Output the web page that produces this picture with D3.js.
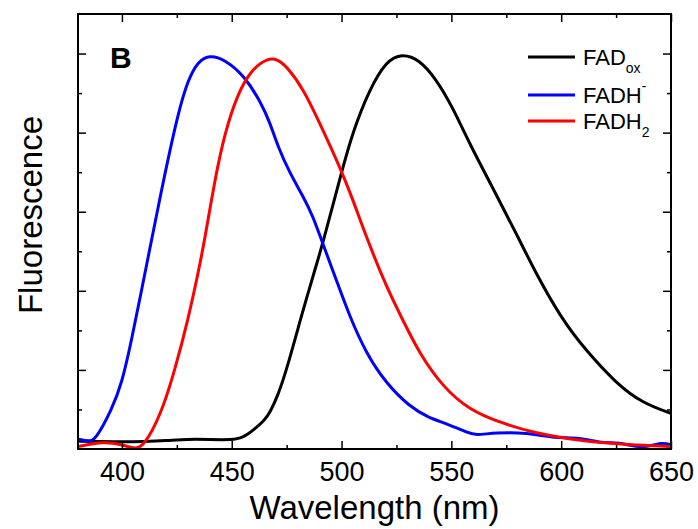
<!DOCTYPE html>
<html>
<head>
<meta charset="utf-8">
<script src="https://cdn.jsdelivr.net/npm/d3@7"></script>
<style>
  body { margin: 0; background: #fff; }
  svg { font-family: "Liberation Sans", Arial, sans-serif; }
</style>
</head>
<body>
<svg></svg>
<script>
// FAD oxidised
let oxWave = [380, 390, 400, 410, 420, 430, 440, 450, 455, 460, 465, 467.4, 471, 475, 482.5, 487, 491.5, 500, 505, 512.7, 520.3, 527.5, 535.4, 543, 550.5, 558, 570, 581, 588.4, 600.4, 611, 625, 637, 650]
let oxVal = [0.020, 0.019, 0.018, 0.019, 0.021, 0.025, 0.024, 0.023, 0.028, 0.048, 0.073, 0.092, 0.135, 0.200, 0.352, 0.437, 0.520, 0.700, 0.800, 0.909, 0.981, 1.000, 0.985, 0.936, 0.865, 0.775, 0.648, 0.529, 0.445, 0.327, 0.251, 0.166, 0.116, 0.090]

// FADH-
let fadhWave = [380, 385, 388, 395.3, 400, 404.4, 409, 413.5, 419.6, 425.6, 430.1, 434.7, 440, 446.8, 455.9, 463.4, 467.4, 471, 476.4, 482.5, 487, 490.8, 497.6, 503.7, 511.2, 520.3, 531, 540, 547.5, 558, 561, 570, 584, 597.5, 608, 618.6, 626, 637, 646, 650]
let fadhVal = [0.025, 0.019, 0.023, 0.099, 0.166, 0.276, 0.403, 0.529, 0.698, 0.850, 0.934, 0.981, 0.996, 0.985, 0.943, 0.875, 0.825, 0.765, 0.698, 0.639, 0.588, 0.529, 0.428, 0.335, 0.242, 0.166, 0.107, 0.078, 0.065, 0.040, 0.035, 0.041, 0.042, 0.027, 0.030, 0.014, 0.018, 0.000, 0.018, 0.010]

// FADH2
let fadh2Wave = [380, 391.7, 400.8, 406.1, 409.9, 418, 424.1, 430.1, 434.7, 437.7, 442.3, 446.8, 452.8, 458.9, 466.4, 471, 474.9, 482.5, 490, 499.1, 505.2, 511.2, 520.3, 527.8, 535.4, 546, 558, 573, 588.4, 603.5, 618.6, 633.8, 650]
let fadh2Val = [0.006, 0.020, 0.010, 0.000, 0.006, 0.090, 0.200, 0.327, 0.445, 0.529, 0.681, 0.799, 0.900, 0.959, 0.989, 0.985, 0.968, 0.912, 0.825, 0.715, 0.630, 0.537, 0.411, 0.327, 0.242, 0.158, 0.099, 0.065, 0.040, 0.025, 0.016, 0.010, 0.006]

let xMajor = [400, 450, 500, 550, 600, 650]
let xMinor = [425, 475, 525, 575, 625]
let yMajor = [0.2, 0.4, 0.6, 0.8, 1.0]
let yMinor = [0.1, 0.3, 0.5, 0.7, 0.9]

let series = [
    {name: "FAD", sub: "ox", sup: null, color: "#000000", wave: oxWave, val: oxVal},
    {name: "FADH", sub: null, sup: "-", color: "#0000ff", wave: fadhWave, val: fadhVal},
    {name: "FADH", sub: "2", sup: null, color: "#ff0000", wave: fadh2Wave, val: fadh2Val}
]

let svgWidth = 698,
    svgHeight = 529
let plotLeft = 78, plotRight = 671, plotTop = 14, plotBottom = 449

let svg = d3.select('svg')
    .attr('width', svgWidth)
    .attr('height', svgHeight)

let x = d3.scaleLinear().domain([380, 650]).range([plotLeft, plotRight])
let y = d3.scaleLinear().domain([0, 1.1]).range([plotBottom, plotTop])

svg.append('clipPath').attr('id', 'plot')
    .append('rect')
    .attr('x', plotLeft).attr('y', plotTop)
    .attr('width', plotRight - plotLeft).attr('height', plotBottom - plotTop)

// CURVES (b-spline smooths the hand-read points)
let line = d3.line()
    .x(d => x(d[0]))
    .y(d => y(d[1]))
    .curve(d3.curveBasis)

svg.append('g').attr('clip-path', 'url(#plot)')
    .selectAll('path')
    .data(series)
    .enter()
    .append('path')
    .attr('d', s => line(s.wave.map((w, i) => [w, s.val[i]])))
    .attr('fill', 'none')
    .attr('stroke', s => s.color)
    .attr('stroke-width', 3)

// AXES - inward ticks on all four sides
function styleAxis(g) {
    g.select('.domain').remove()
    g.selectAll('line').attr('stroke', '#000').attr('stroke-width', 1.5)
    g.selectAll('text').attr('font-size', 27).attr('fill', '#000')
        .attr('font-family', '"Liberation Sans", Arial, sans-serif')
}

svg.append('g').attr('transform', `translate(0, ${plotBottom})`)
    .call(d3.axisBottom(x).tickValues(xMajor).tickSize(-8).tickPadding(13).tickFormat(d3.format('d')))
    .call(styleAxis)
svg.append('g').attr('transform', `translate(0, ${plotBottom})`)
    .call(d3.axisBottom(x).tickValues(xMinor).tickSize(-4).tickFormat(''))
    .call(styleAxis)
svg.append('g').attr('transform', `translate(0, ${plotTop})`)
    .call(d3.axisTop(x).tickValues(xMajor).tickSize(-8).tickFormat(''))
    .call(styleAxis)
svg.append('g').attr('transform', `translate(0, ${plotTop})`)
    .call(d3.axisTop(x).tickValues(xMinor).tickSize(-4).tickFormat(''))
    .call(styleAxis)
svg.append('g').attr('transform', `translate(${plotLeft}, 0)`)
    .call(d3.axisLeft(y).tickValues(yMajor).tickSize(-8).tickFormat(''))
    .call(styleAxis)
svg.append('g').attr('transform', `translate(${plotLeft}, 0)`)
    .call(d3.axisLeft(y).tickValues(yMinor).tickSize(-4).tickFormat(''))
    .call(styleAxis)
svg.append('g').attr('transform', `translate(${plotRight}, 0)`)
    .call(d3.axisRight(y).tickValues(yMajor).tickSize(-8).tickFormat(''))
    .call(styleAxis)
svg.append('g').attr('transform', `translate(${plotRight}, 0)`)
    .call(d3.axisRight(y).tickValues(yMinor).tickSize(-4).tickFormat(''))
    .call(styleAxis)

// FRAME
svg.append('rect')
    .attr('x', plotLeft).attr('y', plotTop)
    .attr('width', plotRight - plotLeft).attr('height', plotBottom - plotTop)
    .attr('fill', 'none')
    .attr('stroke', '#000')
    .attr('stroke-width', 2)

// AXIS TITLES
svg.append('text')
    .attr('x', (plotLeft + plotRight) / 2)
    .attr('y', 519)
    .attr('text-anchor', 'middle')
    .attr('font-size', 33)
    .text('Wavelength (nm)')

svg.append('text')
    .attr('transform', 'translate(42, 215) rotate(-90)')
    .attr('text-anchor', 'middle')
    .attr('font-size', 33)
    .text('Fluorescence')

// PANEL LETTER
svg.append('text')
    .attr('x', 110)
    .attr('y', 68)
    .attr('font-size', 30)
    .attr('font-weight', 'bold')
    .text('B')

// LEGEND
let legendY = [57, 95, 121]
let legend = svg.append('g')
    .selectAll('g')
    .data(series)
    .enter()
    .append('g')
    .attr('transform', (d, i) => `translate(0, ${legendY[i]})`)

legend.append('line')
    .attr('x1', 528).attr('x2', 575)
    .attr('stroke', d => d.color)
    .attr('stroke-width', 3)

let lt = legend.append('text')
    .attr('x', 583)
    .attr('y', 8)
    .attr('font-size', 22)

lt.append('tspan').text(d => d.name)
lt.filter(d => d.sub).append('tspan')
    .attr('font-size', 14)
    .attr('dy', 8)
    .text(d => d.sub)
lt.filter(d => d.sup).append('tspan')
    .attr('font-size', 14)
    .attr('dy', -12)
    .text(d => d.sup)
</script>
</body>
</html>
